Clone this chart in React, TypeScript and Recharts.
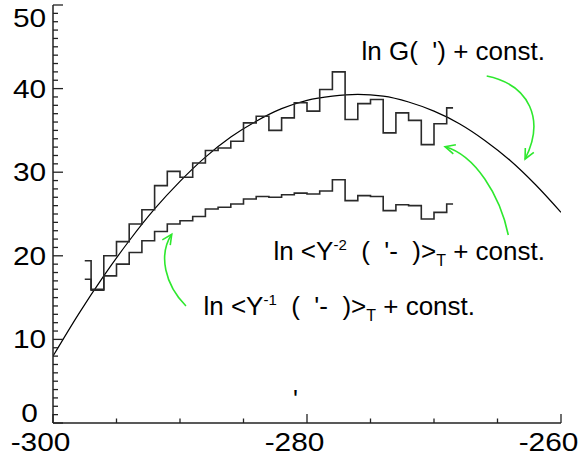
import { LineChart, Line, XAxis, YAxis } from "recharts";

// bin centres of the two histograms
const binX = [
  -297.5, -296.5, -295.5, -294.5, -293.5, -292.5, -291.5, -290.5, -289.5, -288.5,
  -287.5, -286.5, -285.5, -284.5, -283.5, -282.5, -281.5, -280.5, -279.5, -278.5,
  -277.5, -276.5, -275.5, -274.5, -273.5, -272.5, -271.5, -270.5, -269.5, -268.5,
];
// ln <Y^-2> + const.
const upperVals = [
  19.4, 15.9, 20.0, 21.7, 23.8, 25.5, 28.4, 30.1, 29.4, 31.1,
  32.6, 32.9, 33.7, 35.9, 36.7, 35.0, 36.5, 38.3, 37.3, 39.9,
  42.0, 36.3, 38.2, 38.7, 34.7, 37.1, 36.2, 33.3, 35.8, 37.7,
];
// ln <Y^-1> + const.
const lowerVals = [
  17.2, 16.0, 17.6, 19.0, 20.4, 21.8, 22.9, 23.8, 24.2, 24.7,
  25.6, 25.8, 26.2, 26.8, 27.1, 27.0, 27.3, 27.5, 27.4, 27.75,
  29.1, 26.6, 27.2, 27.1, 25.4, 26.1, 26.0, 24.4, 25.2, 26.2,
];
// ln G + const.
const curveX = [
  -300, -298, -296, -294, -292, -290, -288, -286, -284, -282, -280,
  -278, -276, -274, -272, -270, -268, -266, -264, -262, -260,
];
const curveVals = [
  8.0, 13.0, 17.6, 21.8, 25.6, 28.9, 31.8, 34.2, 36.1, 37.6, 38.6,
  39.1, 39.3, 39.1, 38.4, 37.3, 35.8, 33.8, 31.4, 28.5, 25.2,
];

const xTicks = [-300, -295, -290, -285, -280, -275, -270, -265, -260];
const yTicks = Array.from({ length: 51 }, (_, i) => i);

const upperData = binX.map((x, i) => ({ x, y: upperVals[i] }));
const lowerData = binX.map((x, i) => ({ x, y: lowerVals[i] }));
const curveData = curveX.map((x, i) => ({ x, y: curveVals[i] }));

const W = 583;
const H = 462;
const PLOT = { left: 53, right: 561, top: 5, bottom: 423 };
const FONT = "'Liberation Sans', Arial, Helvetica, sans-serif";
const GREEN = "#2ee82e";
const TICK_FONT = 25.5;
const TICK_STRETCH = 1.17;

const px = (x: number) =>
  PLOT.left + ((x + 300) / 40) * (PLOT.right - PLOT.left);
const py = (y: number) => PLOT.bottom - (y / 50) * (PLOT.bottom - PLOT.top);

// annotation arrows (bezier control points in data units)
const arrows = [
  [[-265.85, 41.51], [-262.44, 40.43], [-261.26, 36.24], [-262.83, 31.58]],
  [[-264.15, 22.49], [-264.8, 27.27], [-266.77, 32.06], [-269.13, 33.05]],
  [[-289.53, 14.0], [-291.18, 16.51], [-291.73, 20.1], [-290.65, 22.57]],
];

const TickLabel = ({ cx, by, value }: { cx: number; by: number; value: number }) => (
  <text
    transform={`translate(${cx},${by}) scale(${TICK_STRETCH},1)`}
    textAnchor="middle"
    fontSize={TICK_FONT}
    fontFamily={FONT}
    fill="#000"
  >
    {value}
  </text>
);

const BottomTick = ({ x, y, payload }: any) => {
  const major = payload.value % 20 === 0;
  return (
    <g>
      <line x1={x} y1={y} x2={x} y2={y - (major ? 9 : 4.5)} stroke="#222" strokeWidth={1.3} />
      {major && <TickLabel cx={x - 12.5} by={y + 27.5} value={payload.value} />}
    </g>
  );
};

const TopTick = ({ x, y, payload }: any) => {
  const major = payload.value % 20 === 0;
  return <line x1={x} y1={y} x2={x} y2={y + (major ? 9 : 4.5)} stroke="#222" strokeWidth={1.3} />;
};

const LeftTick = ({ x, y, payload }: any) => {
  const v = payload.value;
  const major = v % 10 === 0;
  const dy = v === 0 ? -1 : v === 50 ? 21.7 : 9;
  return (
    <g>
      <line x1={x} y1={y} x2={x + (major ? 10 : 5)} y2={y} stroke="#222" strokeWidth={1.3} />
      {major && <TickLabel cx={x - 23.5} by={y + dy} value={v} />}
    </g>
  );
};

const RightTick = ({ x, y, payload }: any) => {
  const major = payload.value % 10 === 0;
  return <line x1={x} y1={y} x2={x - (major ? 10 : 5.5)} y2={y} stroke="#222" strokeWidth={1.3} />;
};

function Arrow({ pts }: { pts: number[][] }) {
  const p = pts.map(([x, y]) => [px(x), py(y)]);
  const [p0, p1, p2, p3] = p;
  const dx = p3[0] - p2[0];
  const dy = p3[1] - p2[1];
  const len = Math.hypot(dx, dy);
  const ux = dx / len;
  const uy = dy / len;
  const wing = (a: number) => {
    const c = Math.cos(a);
    const s = Math.sin(a);
    return [p3[0] - 11 * (ux * c - uy * s), p3[1] - 11 * (ux * s + uy * c)];
  };
  const w1 = wing(0.45);
  const w2 = wing(-0.45);
  return (
    <g stroke={GREEN} strokeWidth={1.6} fill="none">
      <path d={`M${p0[0]},${p0[1]} C${p1[0]},${p1[1]} ${p2[0]},${p2[1]} ${p3[0]},${p3[1]}`} />
      <polyline points={`${w1[0]},${w1[1]} ${p3[0]},${p3[1]} ${w2[0]},${w2[1]}`} />
    </g>
  );
}

function Annotations() {
  const t = { fontFamily: FONT, fontSize: 26, fill: "#000" };
  return (
    <svg
      width={W}
      height={H}
      style={{ position: "absolute", left: 0, top: 0, pointerEvents: "none" }}
    >
      <text x={px(-261.26)} y={py(43.42)} textAnchor="end" {...t}>
        {"ln G(\u00a0\u00a0') + const."}
      </text>
      <text x={px(-261.26)} y={py(19.5)} textAnchor="end" {...t}>
        ln &lt;Y
        <tspan fontSize={15} dy={-10}>-2</tspan>
        <tspan dy={10}>{"\u00a0\u00a0(\u00a0\u00a0'-\u00a0\u00a0)>"}</tspan>
        <tspan fontSize={16} dy={6}>T</tspan>
        <tspan dy={-6}>{"\u00a0+ const."}</tspan>
      </text>
      <text x={px(-266.77)} y={py(12.92)} textAnchor="end" {...t}>
        ln &lt;Y
        <tspan fontSize={15} dy={-10}>-1</tspan>
        <tspan dy={10}>{"\u00a0\u00a0(\u00a0\u00a0'-\u00a0\u00a0)>"}</tspan>
        <tspan fontSize={16} dy={6}>T</tspan>
        <tspan dy={-6}>{"\u00a0+ const."}</tspan>
      </text>
      <text x={px(-280.91)} y={py(1.79)} textAnchor="middle" {...t}>
        '
      </text>
      {arrows.map((a, i) => (
        <Arrow key={i} pts={a} />
      ))}
    </svg>
  );
}

export default function App() {
  return (
    <div style={{ position: "absolute", left: 0, top: 0, width: W, height: H, background: "#fff" }}>
      <LineChart width={W} height={H} margin={{ top: 5, right: 22, bottom: 0, left: 0 }}>
        <XAxis
          dataKey="x"
          type="number"
          domain={[-300, -260]}
          ticks={xTicks}
          interval={0}
          height={39}
          tickSize={0}
          tickMargin={0}
          tickLine={false}
          axisLine={{ stroke: "#222", strokeWidth: 1.5 }}
          tick={BottomTick}
          allowDataOverflow
        />
        <XAxis
          xAxisId="top"
          orientation="top"
          dataKey="x"
          type="number"
          domain={[-300, -260]}
          ticks={xTicks}
          interval={0}
          height={0}
          tickSize={0}
          tickMargin={0}
          tickLine={false}
          axisLine={{ stroke: "#222", strokeWidth: 1.5 }}
          tick={TopTick}
          allowDataOverflow
        />
        <YAxis
          type="number"
          domain={[0, 50]}
          ticks={yTicks}
          interval={0}
          width={53}
          tickSize={0}
          tickMargin={0}
          tickLine={false}
          axisLine={{ stroke: "#222", strokeWidth: 1.5 }}
          tick={LeftTick}
          allowDataOverflow
        />
        <YAxis
          yAxisId="right"
          orientation="right"
          type="number"
          domain={[0, 50]}
          ticks={yTicks}
          interval={0}
          width={0}
          tickSize={0}
          tickMargin={0}
          tickLine={false}
          axisLine={{ stroke: "#222", strokeWidth: 1.5 }}
          tick={RightTick}
          allowDataOverflow
        />
        <Line
          data={curveData}
          dataKey="y"
          type="monotone"
          stroke="#000"
          strokeWidth={1.2}
          dot={false}
          isAnimationActive={false}
        />
        <Line
          data={upperData}
          dataKey="y"
          type="step"
          stroke="#2a2a2a"
          strokeWidth={1.6}
          dot={false}
          isAnimationActive={false}
        />
        <Line
          data={lowerData}
          dataKey="y"
          type="step"
          stroke="#2a2a2a"
          strokeWidth={1.6}
          dot={false}
          isAnimationActive={false}
        />
      </LineChart>
      <Annotations />
    </div>
  );
}
